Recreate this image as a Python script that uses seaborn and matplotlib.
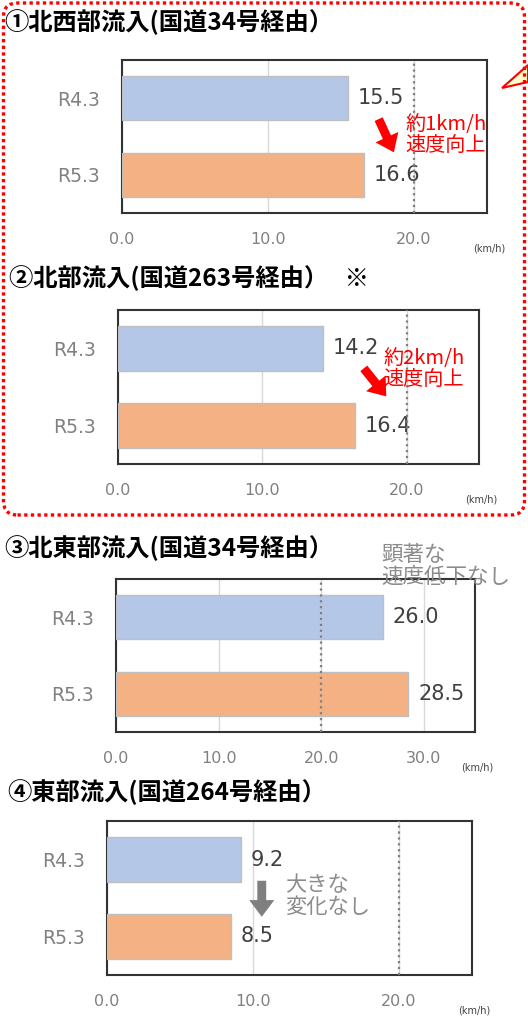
import matplotlib
matplotlib.use('Agg')
import matplotlib.pyplot as plt
import seaborn as sns
from matplotlib.patches import FancyBboxPatch, Polygon
from matplotlib.transforms import Affine2D

sns.set_theme(style='white')
plt.rcParams['font.family'] = ['DejaVu Sans', 'Noto Sans CJK JP']

# data
periods = ['R4.3', 'R5.3']
nw_speed = [15.5, 16.6]   # ① 北西部流入
n_speed = [14.2, 16.4]    # ② 北部流入
ne_speed = [26.0, 28.5]   # ③ 北東部流入
e_speed = [9.2, 8.5]      # ④ 東部流入
titles = ['①北西部流入(国道34号経由）', '②北部流入(国道263号経由）   ※',
          '③北東部流入(国道34号経由）', '④東部流入(国道264号経由）']
x_max = [25, 25, 35, 25]
x_ticks = [[0, 10, 20], [0, 10, 20], [0, 10, 20, 30], [0, 10, 20]]
ref_speed = 20.0
bar_colors = ['#B4C7E7', '#F4B183']

W, H = 528, 1018
fig = plt.figure(figsize=(W / 100, H / 100), dpi=100)
# pixel coords (origin top-left) -> figure
px = Affine2D().scale(1 / W, -1 / H).translate(0, 1) + fig.transFigure

# axes boxes in pixels: left, top, right, bottom
boxes = [(122, 60, 487, 213), (118, 310, 479, 464), (116, 579, 475, 732), (107, 821, 472, 975)]
title_pos = [(4, 22), (9, 278), (4, 548), (7, 792)]
speeds = [nw_speed, n_speed, ne_speed, e_speed]
cjk = ['Noto Sans CJK JP', 'DejaVu Sans']

axes = []
for i, (l, t, r, b) in enumerate(boxes):
    ax = fig.add_axes([l / W, (H - b) / H, (r - l) / W, (b - t) / H])
    sns.barplot(x=speeds[i], y=periods, hue=periods, palette=bar_colors, legend=False,
                orient='h', width=0.58, saturation=1, edgecolor='#BFBFBF', linewidth=1,
                ax=ax, zorder=3)
    ax.set_xlim(0, x_max[i])
    ax.set_xticks(x_ticks[i])
    ax.set_xticklabels([f'{v:.1f}' for v in x_ticks[i]])
    ax.xaxis.grid(True, color='#D9D9D9', lw=1)
    ax.set_axisbelow(True)
    ax.axvline(ref_speed, color='#7F7F7F', ls=':', lw=1.6, zorder=4)
    ax.set_xlabel('')
    ax.set_ylabel('')
    ax.tick_params(axis='x', length=0, pad=14, labelsize=11.5, labelcolor='#808080')
    ax.tick_params(axis='y', length=0, pad=16, labelsize=13.5, labelcolor='#808080')
    for s in ax.spines.values():
        s.set_color('#333333')
        s.set_linewidth(1.5)
    for c in ax.containers:
        ax.bar_label(c, fmt='%.1f', padding=7, fontsize=15, color='#404040')
    ax.text(1.005, -0.23, '(km/h)', transform=ax.transAxes, ha='center', va='center',
            fontsize=7, color='#404040')
    tx, ty = title_pos[i]
    fig.text(tx / W, 1 - ty / H, titles[i], ha='left', va='center', fontsize=17.5,
             fontweight='bold', family=cjk, color='black')
    axes.append(ax)

arrow = 'simple,head_width=0.9,head_length=0.6,tail_width=0.32'

# ① annotation
ax = axes[0]
ax.annotate('', xy=(18.7, 0.74), xytext=(17.5, 0.24),
            arrowprops=dict(arrowstyle=arrow, color='#FF0000', mutation_scale=20, lw=0))
ax.text(19.4, 0.48, '約1km/h\n速度向上', color='#FF0000', fontsize=14.5, family=cjk,
        ha='left', va='center', linespacing=1.0, zorder=6)

# ② annotation
ax = axes[1]
ax.annotate('', xy=(18.7, 0.65), xytext=(16.9, 0.23),
            arrowprops=dict(arrowstyle=arrow, color='#FF0000', mutation_scale=20, lw=0))
ax.text(18.4, 0.26, '約2km/h\n速度向上', color='#FF0000', fontsize=14.5, family=cjk,
        ha='left', va='center', linespacing=1.0, zorder=6)

# ③ annotation
ax = axes[2]
ax.text(25.9, -0.67, '顕著な\n速度低下なし', color='#8C8C8C', fontsize=15.5, family=cjk,
        ha='left', va='center', linespacing=1.0, zorder=6)

# ④ annotation
ax = axes[3]
ax.annotate('', xy=(10.6, 0.78), xytext=(10.6, 0.24),
            arrowprops=dict(arrowstyle=arrow, color='#7F7F7F', mutation_scale=20, lw=0))
ax.text(12.2, 0.47, '大きな\n変化なし', color='#8C8C8C', fontsize=15.3, family=cjk,
        ha='left', va='center', linespacing=1.0, zorder=6)

# red dotted frame around ① and ②
frame = FancyBboxPatch((0.035, (H - 515) / 100), 5.21, 5.12,
                       boxstyle='round,pad=0,rounding_size=0.14',
                       transform=fig.dpi_scale_trans, fill=False, edgecolor='#FF0000',
                       lw=2.4, linestyle=(0, (1, 1)), zorder=10)
fig.patches.append(frame)

# callout tip at the top right
callout = Polygon([(502, 88), (528, 65), (528, 82)], closed=True, transform=px,
                  facecolor='#FFFFCC', edgecolor='#FF0000', lw=1.5, zorder=9)
fig.patches.append(callout)

fig.savefig('out.png', dpi=100)
